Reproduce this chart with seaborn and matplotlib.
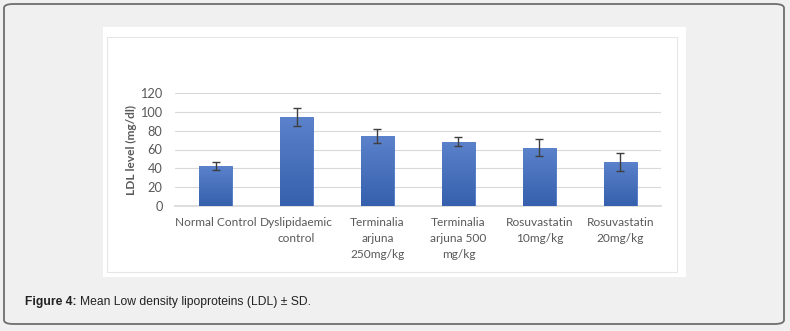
import numpy as np
import pandas as pd
import matplotlib
matplotlib.use("Agg")
import matplotlib.pyplot as plt
import seaborn as sns
from matplotlib.patches import FancyBboxPatch, Rectangle
from matplotlib.colors import LinearSegmentedColormap

categories = ["Normal Control", "Dyslipidaemic\ncontrol", "Terminalia\narjuna\n250mg/kg",
              "Terminalia\narjuna 500\nmg/kg", "Rosuvastatin\n10mg/kg", "Rosuvastatin\n20mg/kg"]
means = [42.5, 95.0, 74.5, 68.5, 62.0, 47.0]
sds = [4.5, 9.5, 7.5, 5.0, 9.0, 9.5]
yticks = [0, 20, 40, 60, 80, 100, 120]

sns.set_theme(style="white")
plt.rcParams['font.family'] = ['Lato', 'DejaVu Sans']

W, H = 790, 331
fig = plt.figure(figsize=(W / 100, H / 100), dpi=100)
fig.patch.set_facecolor("#f0f0f0")

def fx(px): return px / W
def fy(py): return 1 - py / H

# outer rounded frame
frame = FancyBboxPatch((fx(4), fy(324)), fx(780), (320) / H,
                       boxstyle="round,pad=0,rounding_size=0.012",
                       transform=fig.transFigure, facecolor="#f0f0f0",
                       edgecolor="#6e6e6e", linewidth=1.3, zorder=0)
fig.patches.append(frame)
# white chart panel
fig.patches.append(Rectangle((fx(103), fy(277)), fx(583), (277 - 27) / H,
                             transform=fig.transFigure, facecolor="white",
                             edgecolor="none", zorder=1))
fig.patches.append(Rectangle((fx(107), fy(272)), fx(570), (272 - 37) / H,
                             transform=fig.transFigure, facecolor="none",
                             edgecolor="#e6e6e6", linewidth=0.8, zorder=2))

ax = fig.add_axes([fx(175), fy(205.7), fx(661 - 175), (205.7 - 93.3) / H])
ax.set_zorder(10)
ax.set_facecolor("none")

df = pd.DataFrame({"group": categories, "ldl": means})
sns.barplot(data=df, x="group", y="ldl", color="#4472c4", width=0.4,
            errorbar=None, ax=ax, zorder=3, saturation=1)

cmap = LinearSegmentedColormap.from_list("g", ["#3660ad", "#5b82cb"])
grad = np.linspace(0, 1, 256).reshape(-1, 1)
for p in list(ax.patches):
    x0, y0 = p.get_x(), p.get_y()
    w, h = p.get_width(), p.get_height()
    im = ax.imshow(grad, cmap=cmap, aspect="auto", origin="lower",
                   extent=[x0, x0 + w, y0, y0 + h], zorder=3.5)
    im.set_clip_path(p)
    p.set_edgecolor("#4a74c2")
    p.set_linewidth(0.6)

ax.errorbar(x=np.arange(len(categories)), y=means, yerr=sds, fmt="none",
            ecolor="#3f3f3f", elinewidth=1.0, capsize=3, capthick=1.0, zorder=5)

ax.set_xlim(-0.5, len(categories) - 0.5)
ax.set_ylim(0, 120)
ax.set_yticks(yticks)
ax.set_yticklabels([str(v) for v in yticks], fontsize=9.2, color="#595959")
ax.yaxis.grid(True, color="#d9d9d9", linewidth=0.8)
ax.set_axisbelow(True)
for s in ax.spines.values():
    s.set_visible(False)
ax.spines["bottom"].set_visible(True)
ax.spines["bottom"].set_color("#d9d9d9")
ax.tick_params(axis="both", length=0, pad=9)
ax.tick_params(axis="x", pad=8)
ax.set_xticks(range(len(categories)))
ax.set_xticklabels(categories, fontsize=8.6, color="#595959", linespacing=1.55)
ax.set_xlabel("")
ax.set_ylabel("LDL level (mg/dl)", fontsize=8.6, fontweight="bold", color="#595959",
              labelpad=2)

t1 = fig.text(fx(25), fy(302), "Figure 4:", fontsize=8.7, fontweight="bold",
              family="Liberation Sans", color="#222222", va="center")
fig.canvas.draw()
bb = t1.get_window_extent(renderer=fig.canvas.get_renderer())
fig.text(bb.x1 / W + fx(3), fy(302), "Mean Low density lipoproteins (LDL) ± SD.",
         fontsize=8.7, family="Liberation Sans", color="#222222", va="center")

fig.savefig("out.png", dpi=100, facecolor=fig.get_facecolor())
